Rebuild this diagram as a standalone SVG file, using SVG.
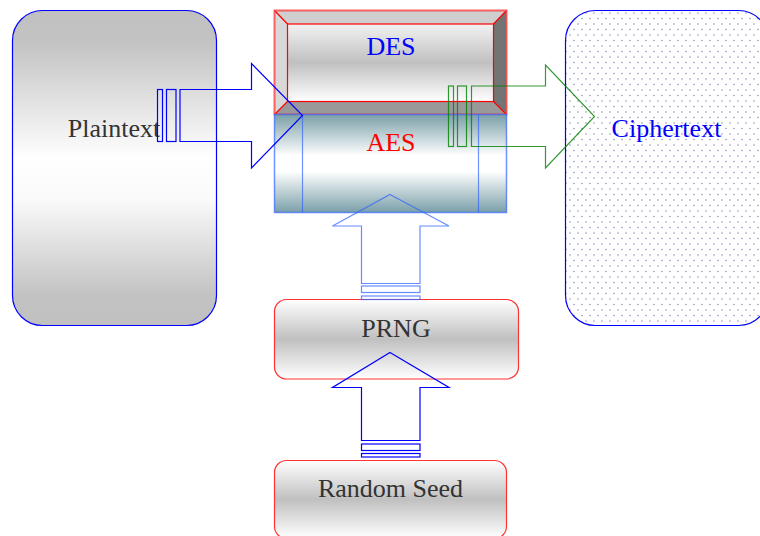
<svg xmlns="http://www.w3.org/2000/svg" width="760" height="536" viewBox="0 0 760 536">
<defs>
<linearGradient id="gPlain" x1="0" y1="0" x2="0" y2="1">
<stop offset="0" stop-color="#c0c0c0"/>
<stop offset="0.1" stop-color="#c3c3c3"/>
<stop offset="0.47" stop-color="#ffffff"/>
<stop offset="0.6" stop-color="#fafafa"/>
<stop offset="0.9" stop-color="#c3c3c3"/>
<stop offset="1" stop-color="#c0c0c0"/>
</linearGradient>
<linearGradient id="gBand" x1="0" y1="0" x2="0" y2="1">
<stop offset="0" stop-color="#ffffff"/>
<stop offset="0.5" stop-color="#c0c0c0"/>
<stop offset="1" stop-color="#ffffff"/>
</linearGradient>
<linearGradient id="gDes" x1="0" y1="0" x2="0" y2="1">
<stop offset="0" stop-color="#f2f2f2"/>
<stop offset="0.5" stop-color="#c0c0c0"/>
<stop offset="1" stop-color="#ffffff"/>
</linearGradient>
<linearGradient id="gAes" x1="0" y1="0" x2="0" y2="1">
<stop offset="0" stop-color="#7a9fa8"/>
<stop offset="0.42" stop-color="#ffffff"/>
<stop offset="0.58" stop-color="#ffffff"/>
<stop offset="1" stop-color="#7a9fa8"/>
</linearGradient>
<pattern id="dots" width="8" height="11" patternUnits="userSpaceOnUse">
<rect width="8" height="11" fill="#ffffff"/>
<circle cx="2" cy="2" r="0.75" fill="#8888bb"/>
<circle cx="6" cy="7.5" r="0.75" fill="#8888bb"/>
</pattern>
</defs>
<style>
text{font-size:26px;text-anchor:middle}
.dark{fill:#333333}
.blueT{fill:#0000ff}
.redT{fill:#ff0000}
.arB{fill:none;stroke:#0000ff;stroke-width:1.2}
.arL{fill:none;stroke:#3366ff;stroke-opacity:0.75;stroke-width:1.2}
.arG{fill:none;stroke:#008000;stroke-opacity:0.8;stroke-width:1.2}
</style>
<rect width="760" height="536" fill="#ffffff"/>

<g id="plaintext">
<rect x="12.5" y="10.5" width="204" height="315" rx="30" fill="url(#gPlain)" stroke="#0000ff" stroke-width="1.2"/>
<text x="114" y="137" class="dark" font-family="Liberation Serif, Tinos, Times New Roman, DejaVu Serif, serif">Plaintext</text>
</g>

<g id="ciphertext">
<rect x="565.5" y="10.5" width="203" height="315" rx="30" fill="url(#dots)" stroke="#0000ff" stroke-width="1.2"/>
<text x="666.5" y="137" class="blueT" font-family="Liberation Serif, Tinos, Times New Roman, DejaVu Serif, serif">Ciphertext</text>
</g>

<g id="des">
<polygon points="274.5,10.5 506.5,10.5 493.5,24 287.5,24" fill="#cfcfcf"/>
<polygon points="274.5,10.5 287.5,24 287.5,101.5 274.5,114.5" fill="#d8d8d8"/>
<polygon points="506.5,10.5 506.5,114.5 493.5,101.5 493.5,24" fill="#747474"/>
<polygon points="274.5,114.5 287.5,101.5 493.5,101.5 506.5,114.5" fill="#999999"/>
<rect x="287.5" y="24" width="206" height="77.5" fill="url(#gDes)" stroke="#ff0000" stroke-width="1.2"/>
<path d="M274.5,10.5 L287.5,24 M506.5,10.5 L493.5,24 M274.5,114.5 L287.5,101.5 M506.5,114.5 L493.5,101.5" stroke="#ff0000" stroke-width="1.2"/>
<rect x="274.5" y="10.5" width="232" height="104" fill="none" stroke="#ff3333" stroke-opacity="0.75" stroke-width="2"/>
<text x="391" y="55" class="blueT" font-family="Liberation Serif, Tinos, Times New Roman, DejaVu Serif, serif">DES</text>
</g>

<g id="aes">
<rect x="274.5" y="114.5" width="232" height="98" fill="url(#gAes)" stroke="#3366ff" stroke-opacity="0.7" stroke-width="1.5"/>
<path d="M302.5,114.5 V212.5 M478.5,114.5 V212.5" stroke="#3366ff" stroke-opacity="0.7" stroke-width="1.2"/>
<text x="391" y="151" class="redT" font-family="Liberation Serif, Tinos, Times New Roman, DejaVu Serif, serif">AES</text>
</g>

<g id="prng">
<rect x="274.5" y="299.5" width="244" height="79.5" rx="12" fill="url(#gBand)" stroke="#ff3333" stroke-width="1.2"/>
<text x="396" y="337" class="dark" font-family="Liberation Serif, Tinos, Times New Roman, DejaVu Serif, serif">PRNG</text>
</g>

<g id="random-seed">
<rect x="274.5" y="460.5" width="232" height="78" rx="12" fill="url(#gBand)" stroke="#ff3333" stroke-width="1.2"/>
<text x="390.5" y="497" class="dark" font-family="Liberation Serif, Tinos, Times New Roman, DejaVu Serif, serif">Random Seed</text>
</g>

<g id="connectors">
<g id="plain-to-cipher-in" class="arB">
<rect x="157.5" y="89.5" width="5" height="52"/>
<rect x="166.5" y="89.5" width="9.5" height="52"/>
<path d="M180,89.5 H251.5 V63.5 L302.5,115.5 L251.5,168 V141.5 H180 Z"/>
</g>
<g id="cipher-out" class="arG">
<rect x="448.5" y="86" width="5" height="60.5"/>
<rect x="457.5" y="86" width="9" height="60.5"/>
<path d="M471.5,86 H545.5 V65 L594.5,116.5 L545.5,168 V146.5 H471.5 Z"/>
</g>
<g id="prng-to-aes" class="arL">
<path d="M390,194.5 L449,226 H420 V283.5 H361.5 V226 H332.5 Z"/>
<rect x="361.5" y="286" width="58.5" height="6.5"/>
<rect x="361.5" y="296" width="58.5" height="3.5"/>
</g>
<g id="seed-to-prng" class="arB">
<path d="M390,352.5 L449,387.5 H420 V440.5 H361.5 V387.5 H332.5 Z"/>
<rect x="361.5" y="444" width="58.5" height="6.5"/>
<rect x="361.5" y="453.5" width="58.5" height="3.5"/>
</g>
</g>
</svg>
